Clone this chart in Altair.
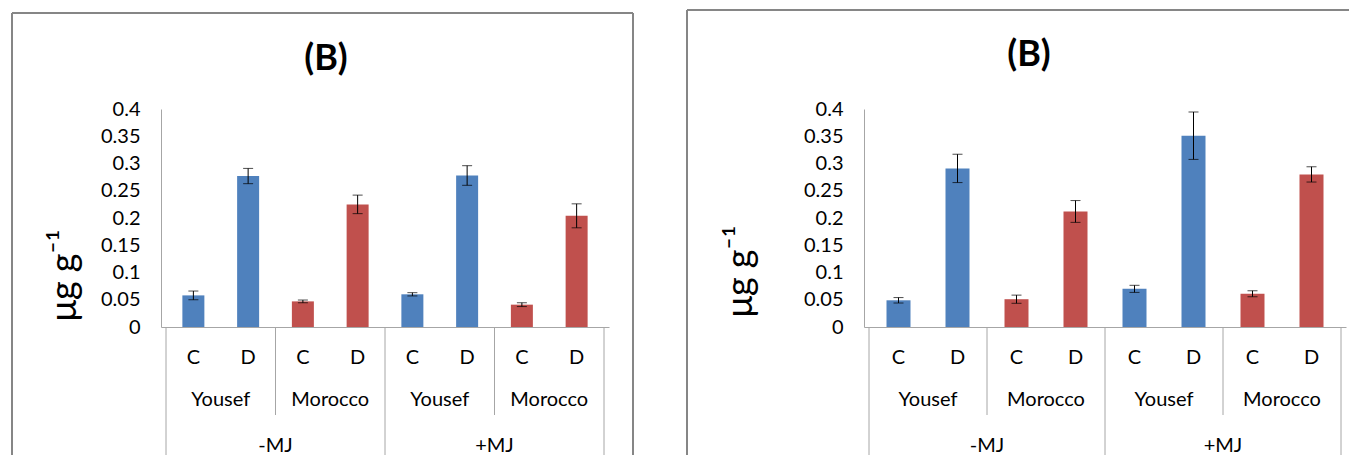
import altair as alt
import pandas as pd

# ---------------- data ----------------
mj_levels = ["-MJ", "+MJ"]
cultivars = ["Yousef", "Morocco"]
treatments = ["C", "D"]
panel_titles = ["(B)", "(B)"]
y_title = "μg g⁻¹"
y_ticks = [0, 0.05, 0.1, 0.15, 0.2, 0.25, 0.3, 0.35, 0.4]

left_values = [0.058, 0.277, 0.047, 0.225, 0.060, 0.278, 0.041, 0.204]
left_errors = [0.008, 0.014, 0.0025, 0.017, 0.003, 0.018, 0.0035, 0.022]
right_values = [0.049, 0.291, 0.051, 0.212, 0.070, 0.351, 0.061, 0.280]
right_errors = [0.005, 0.026, 0.0075, 0.020, 0.0065, 0.0435, 0.0055, 0.014]

cultivar_colors = ["#4F81BD", "#C0504D"]

FONT = "Lato"
AXIS_GRAY = "#A6A6A6"
BORDER_GRAY = "#868686"


def build_table(values, errors):
    rows = []
    i = 0
    for m in mj_levels:
        for c in cultivars:
            for t in treatments:
                rows.append(dict(idx=i, mj=m, cultivar=c, treatment=t,
                                 value=values[i], err=errors[i]))
                i += 1
    df = pd.DataFrame(rows)
    df["pos"] = df["idx"] + 0.5
    df["lo"] = df["value"] - df["err"]
    df["hi"] = df["value"] + df["err"]
    return df


def panel(values, errors, title, w, h, bar_w, border, title_xy, ytitle_x, ytitle_y):
    df = build_table(values, errors)
    n = len(df)
    xscale = alt.Scale(domain=[0, n], nice=False, zero=False)
    yscale = alt.Scale(domain=[0, 0.4], nice=False)

    groups = df.groupby(["mj", "cultivar"], sort=False)["pos"].mean().reset_index()
    mjs = df.groupby("mj", sort=False)["pos"].mean().reset_index()
    long_b = sorted(set(df.groupby("mj")["idx"].min().tolist()) | {n})
    short_b = df[df["cultivar"] == cultivars[1]].groupby("mj")["idx"].min().tolist()
    long_df = pd.DataFrame({"b": long_b})
    short_df = pd.DataFrame({"b": short_b})

    base = alt.Chart(df)

    xaxis = alt.Axis(labels=False, ticks=False, grid=False, title=None,
                     domainColor=AXIS_GRAY, domainWidth=1)
    yaxis = alt.Axis(values=y_ticks, format=".2~f", grid=False, ticks=False,
                     domainColor=AXIS_GRAY, domainWidth=1, labelOverlap=False,
                     labelFont=FONT, labelFontSize=20, labelColor="black",
                     labelPadding=21, title=y_title, titleFont=FONT,
                     titleFontSize=36, titleFontWeight="normal",
                     titleColor="black", titleX=ytitle_x, titleY=ytitle_y,
                     titleAngle=270, titleAlign="center", titleBaseline="bottom")

    def X(field):
        return alt.X(field, scale=xscale, axis=xaxis)

    def Y(field):
        return alt.Y(field, scale=yscale, axis=yaxis)

    bars = base.mark_bar(size=bar_w).encode(
        x=X("pos:Q"),
        y=Y("value:Q"),
        color=alt.Color("cultivar:N",
                        scale=alt.Scale(domain=cultivars, range=cultivar_colors),
                        legend=None),
    )

    err_rule = base.mark_rule(color="black", strokeWidth=1).encode(
        x=X("pos:Q"), y=Y("lo:Q"), y2="hi:Q",
    )
    caps_lo = base.mark_tick(
        color="black", orient="horizontal", size=10, thickness=1
    ).encode(x=X("pos:Q"), y=Y("lo:Q"))
    caps_hi = base.mark_tick(
        color="black", orient="horizontal", size=10, thickness=1
    ).encode(x=X("pos:Q"), y=Y("hi:Q"))

    txt = dict(font=FONT, fontSize=20, color="black", baseline="middle", align="center")
    cd_text = base.mark_text(**txt).encode(
        x=X("pos:Q"), y=alt.value(h + 31), text="treatment:N",
    )
    grp_text = alt.Chart(groups).mark_text(**txt).encode(
        x=X("pos:Q"), y=alt.value(h + 73), text="cultivar:N",
    )
    mj_text = alt.Chart(mjs).mark_text(**txt).encode(
        x=X("pos:Q"), y=alt.value(h + 119), text="mj:N",
    )
    long_rules = alt.Chart(long_df).mark_rule(color=AXIS_GRAY, strokeWidth=1).encode(
        x=X("b:Q"), y=alt.value(h), y2=alt.value(border["bottom"]),
    )
    short_rules = alt.Chart(short_df).mark_rule(color=AXIS_GRAY, strokeWidth=1).encode(
        x=X("b:Q"), y=alt.value(h), y2=alt.value(h + 88),
    )

    one = pd.DataFrame({"k": [0]})
    bl = border["left"]
    bt = border["top"]
    bb = border["bottom"]
    br = border["right"]
    edges = [
        alt.Chart(one).mark_rule(color=BORDER_GRAY, strokeWidth=2).encode(
            x=alt.value(bl), y=alt.value(bt), y2=alt.value(bb)),
        alt.Chart(one).mark_rule(color=BORDER_GRAY, strokeWidth=2).encode(
            x=alt.value(bl), x2=alt.value(br), y=alt.value(bt)),
    ]
    if border.get("right_visible", False):
        edges.append(
            alt.Chart(one).mark_rule(color=BORDER_GRAY, strokeWidth=2).encode(
                x=alt.value(br), y=alt.value(bt), y2=alt.value(bb)))

    title_mark = alt.Chart(one).mark_text(
        font=FONT, fontSize=36, fontWeight="bold", color="black",
        align="center", baseline="middle"
    ).encode(x=alt.value(title_xy[0]), y=alt.value(title_xy[1]), text=alt.value(title))

    return alt.layer(
        bars, err_rule, caps_lo, caps_hi, long_rules, short_rules,
        cd_text, grp_text, mj_text, title_mark, *edges
    ).properties(width=w, height=h)


H = 218
left = panel(left_values, left_errors, panel_titles[0], 448, H, 22,
             dict(left=-149, top=-96, right=472, bottom=346, right_visible=True),
             (165, -50), -78, 166)
right = panel(right_values, right_errors, panel_titles[1], 482, H, 24,
              dict(left=-177, top=-99, right=485, bottom=346, right_visible=False),
              (165, -54), -105, 162)

chart = alt.hconcat(left, right, spacing=255, bounds="flush").properties(
    padding={"left": 3, "top": 1, "right": 0, "bottom": 0}
).configure_view(stroke=None)

chart.save("out.html", embed_options={"renderer": "svg", "actions": False})
